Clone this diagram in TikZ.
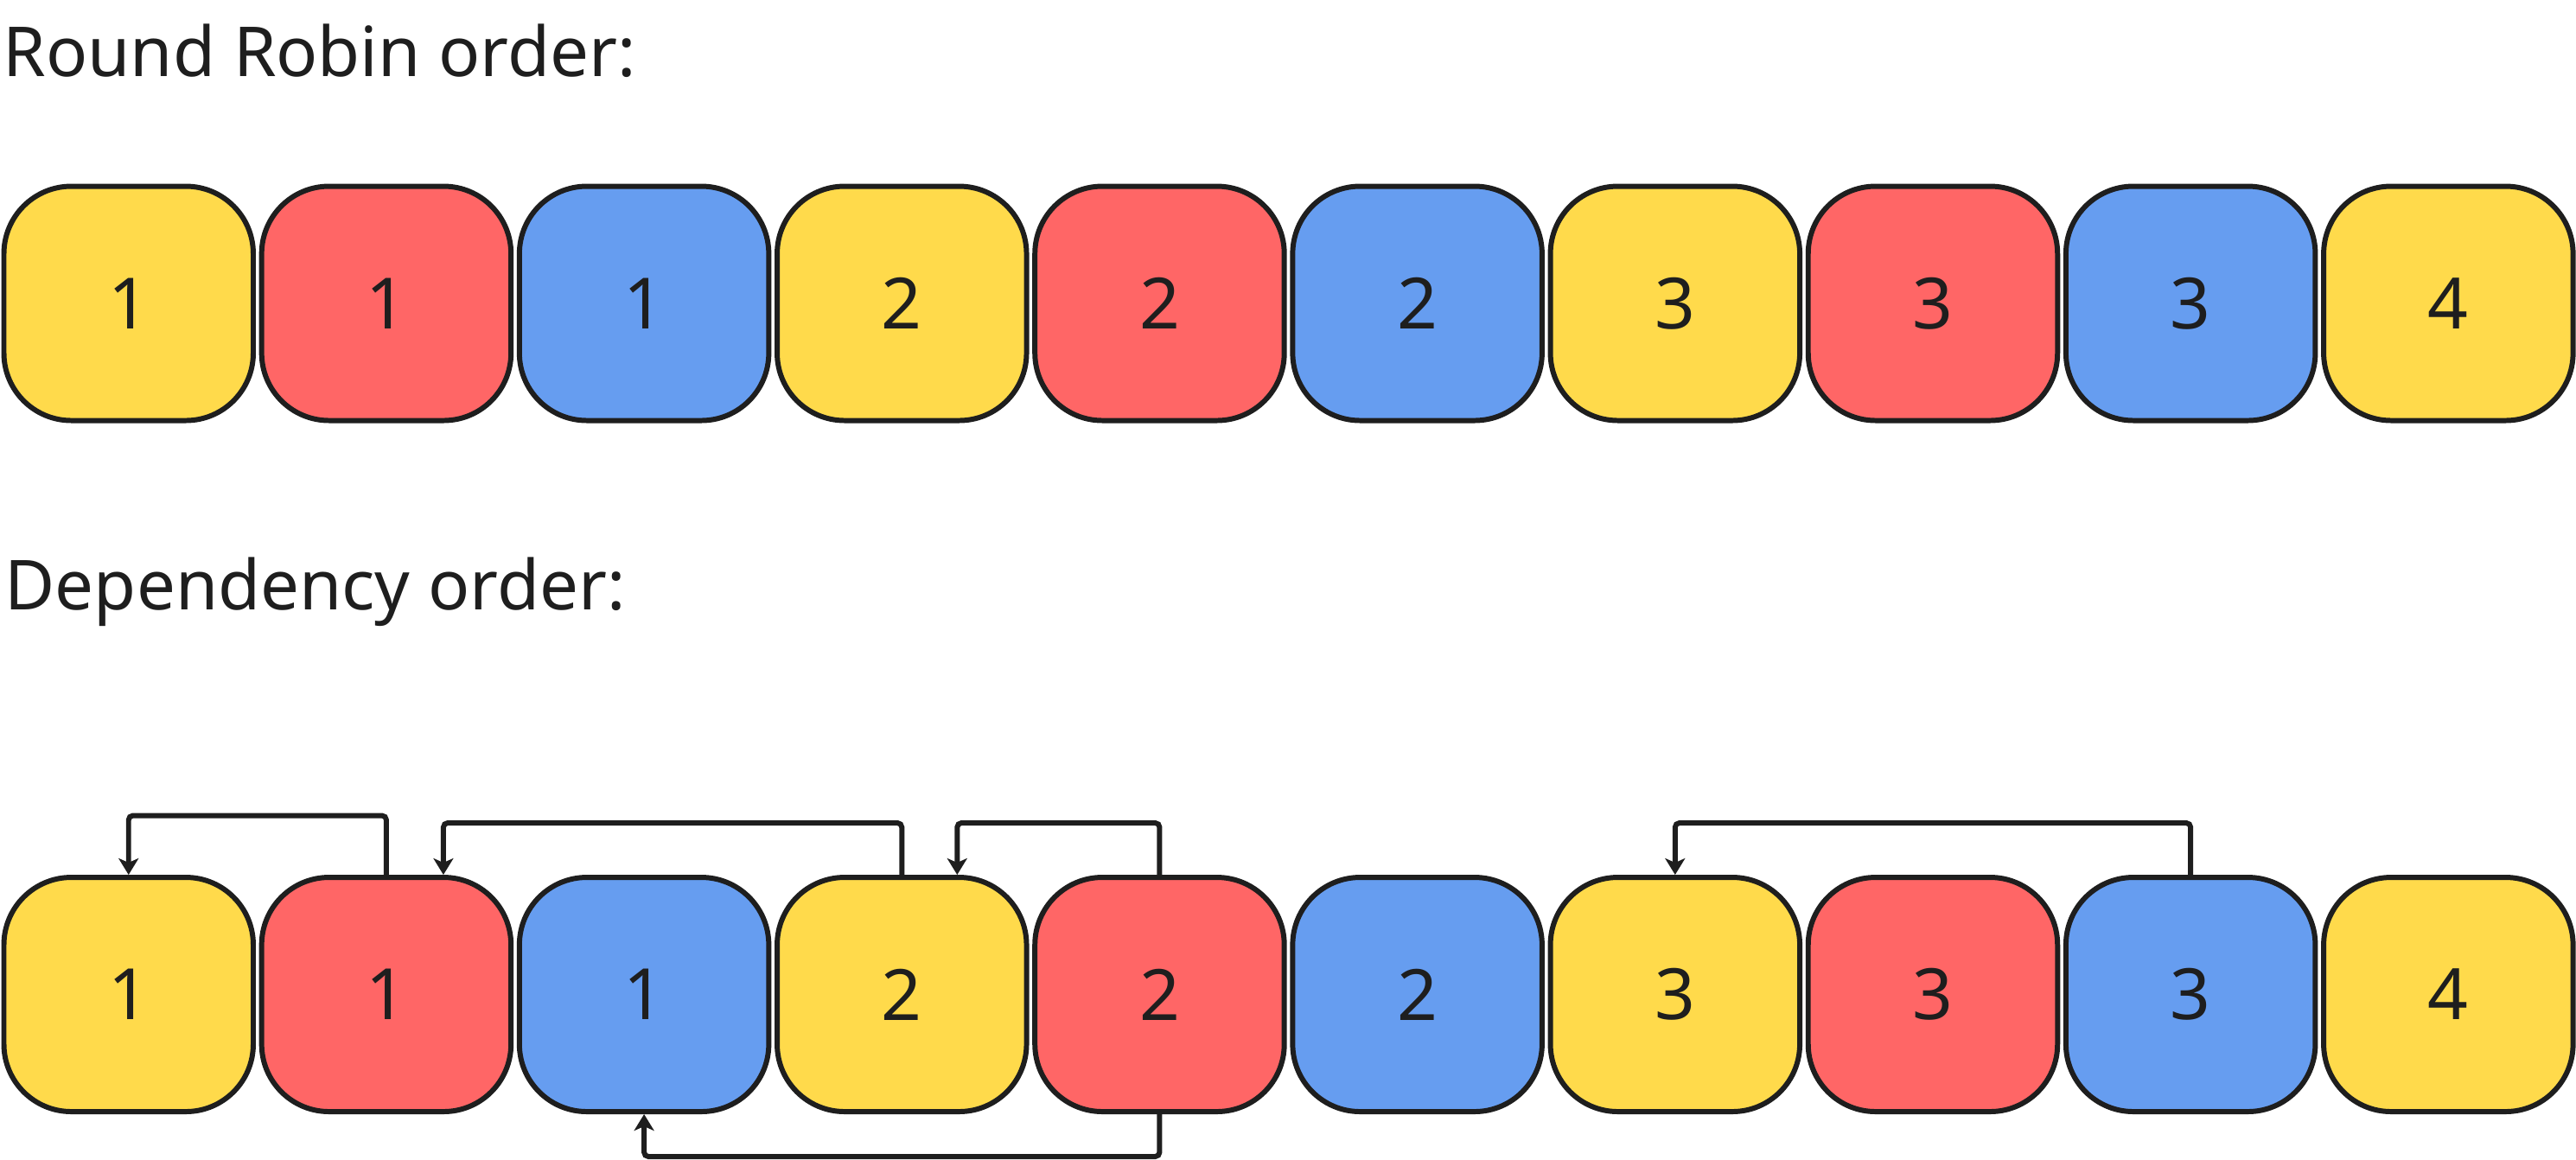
\documentclass[tikz,border=0pt]{standalone}
\usepackage{fontspec}
\setmainfont{Noto Sans}
\usetikzlibrary{positioning,arrows.meta}
\definecolor{cyellow}{HTML}{FFDA4B}
\definecolor{cred}{HTML}{FF6666}
\definecolor{cblue}{HTML}{669DF0}
\definecolor{ink}{HTML}{1E1E1E}

\begin{document}
\begin{tikzpicture}[
      node distance=0.037cm,
      task/.style={draw=ink,line width=1.7pt,rounded corners=0.78cm,minimum width=2.885cm,minimum height=2.71cm,inner sep=0pt,text=ink,font=\fontsize{23.3}{28}\selectfont},
      ytask/.style={task,fill=cyellow},
      rtask/.style={task,fill=cred},
      btask/.style={task,fill=cblue},
      title/.style={anchor=base west,inner sep=0pt,text=ink,font=\fontsize{22.7}{28}\selectfont},
      dep/.style={-{Stealth[length=0.19cm,width=0.23cm,inset=0.05cm]},draw=ink,line width=1.7pt,rounded corners=0.05cm}]
    \useasboundingbox (0,0) rectangle (29.8,-13.41);
    % round robin
    \node[title] (rrtitle) at (0.03,-0.88) {Round Robin order:};
    \node[ytask] (r1) at (1.4875,-3.51) {1};
    \node[rtask,right=of r1] (r2) {1};
    \node[btask,right=of r2] (r3) {1};
    \node[ytask,right=of r3] (r4) {2};
    \node[rtask,right=of r4] (r5) {2};
    \node[btask,right=of r5] (r6) {2};
    \node[ytask,right=of r6] (r7) {3};
    \node[rtask,right=of r7] (r8) {3};
    \node[btask,right=of r8] (r9) {3};
    \node[ytask,right=of r9] (r10) {4};
    % dependency
    \node[title] (deptitle) at (0.05,-7.05) {Dependency order:};
    \node[ytask] (d1) at (1.4875,-11.505) {1};
    \node[rtask,right=of d1] (d2) {1};
    \node[btask,right=of d2] (d3) {1};
    \node[ytask,right=of d3] (d4) {2};
    \node[rtask,right=of d4] (d5) {2};
    \node[btask,right=of d5] (d6) {2};
    \node[ytask,right=of d6] (d7) {3};
    \node[rtask,right=of d7] (d8) {3};
    \node[btask,right=of d8] (d9) {3};
    \node[ytask,right=of d9] (d10) {4};
    \coordinate (d2in) at ([xshift=0.66cm]d2.north);
    \coordinate (d4in) at ([xshift=0.64cm]d4.north);
    \draw[dep] (d2.north) -- ++(0,0.685) -| (d1.north);
    \draw[dep] (d4.north) -- ++(0,0.6) -| (d2in);
    \draw[dep] (d5.north) -- ++(0,0.6) -| (d4in);
    \draw[dep] (d5.south) -- ++(0,-0.49) -| (d3.south);
    \draw[dep] (d9.north) -- ++(0,0.6) -| (d7.north);
  \end{tikzpicture}
\end{document}
